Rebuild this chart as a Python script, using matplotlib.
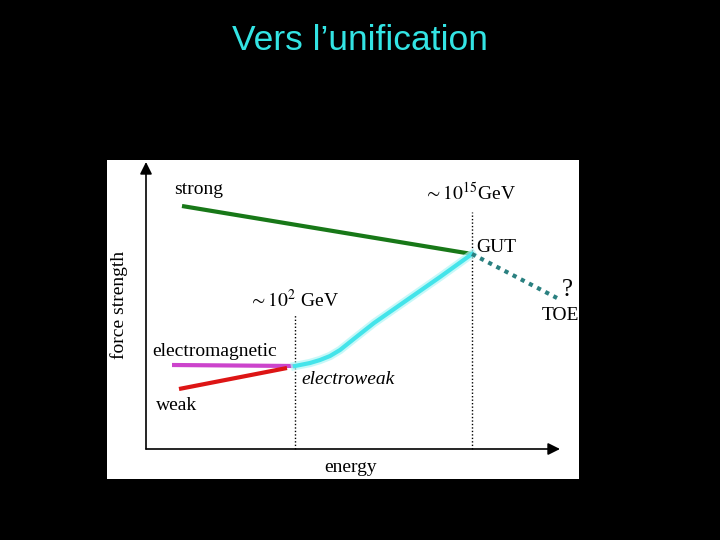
import numpy as np
import matplotlib.pyplot as plt

# values, origin at the axis corner (units ~ pixels)
strong_x = [36, 326]
strong_y = [243, 195]
em_x = [26, 149]
em_y = [84, 83]
weak_x = [33, 141]
weak_y = [60, 81]
ew_x = [149, 154, 164, 174, 184, 194, 209, 228, 261, 294, 326]
ew_y = [83, 84, 86, 89, 93, 99, 111, 126, 149, 172, 195]
toe_x = [326, 411]
toe_y = [195, 151]
vlines_x = [149, 326]
vlines_top = [134, 237]

serif = ['Liberation Serif', 'DejaVu Serif']

fig = plt.figure(figsize=(7.2, 5.4), dpi=100, facecolor='black')
fig.text(0.5, 1 - 40 / 540, 'Vers l\u2019unification', color='#33e4e4',
         fontsize=25.5, family='Liberation Sans', ha='center', va='center')

ax = fig.add_axes([107 / 720, 1 - 479 / 540, 472 / 720, 319 / 540])
ax.set_facecolor('white')
ax.set_xlim(-39, 433)
ax.set_ylim(-30, 289)
ax.set_xticks([])
ax.set_yticks([])
for s in ax.spines.values():
    s.set_visible(False)

# axes with arrows
arr = dict(arrowstyle='-|>', color='black', lw=1.2, mutation_scale=18,
           shrinkA=0, shrinkB=0)
ax.annotate('', xy=(414, 0), xytext=(0, 0), arrowprops=arr)
ax.annotate('', xy=(0, 287), xytext=(0, 0), arrowprops=arr)

for x, top in zip(vlines_x, vlines_top):
    ax.plot([x, x], [0, top], color='black', lw=1, ls=(0, (1, 1.5)))

ax.plot(strong_x, strong_y, color='#187818', lw=3, solid_capstyle='butt')
ax.plot(em_x, em_y, color='#cc44cc', lw=3, solid_capstyle='butt')
ax.plot(weak_x, weak_y, color='#dd1515', lw=3, solid_capstyle='butt')
ax.plot(ew_x, ew_y, color='#b0f6f6', lw=6, alpha=0.7)
ax.plot(ew_x, ew_y, color='#44e4ea', lw=3)
ax.plot(toe_x, toe_y, color='#2a8080', lw=3, ls=(0, (1, 1.2)))

fs = 14
ax.text(28, 259, 'strong', family=serif, fontsize=fs, va='center')
ax.text(278, 256, r'$\sim 10^{15}$GeV', family=serif, fontsize=fs, va='center',
        math_fontfamily='stix')
ax.text(330, 202, 'GUT', family=serif, fontsize=fs, va='center')
ax.text(421, 159, '?', family=serif, fontsize=18, ha='center', va='center')
ax.text(396, 133, 'TOE', family=serif, fontsize=fs, va='center')
ax.text(103, 149, r'$\sim 10^{2}$ GeV', family=serif, fontsize=fs, va='center',
        math_fontfamily='stix')
ax.text(6, 98, 'electromagnetic', family=serif, fontsize=fs, va='center')
ax.text(155, 69, 'electroweak', family=serif, fontsize=fs, style='italic', va='center')
ax.text(10, 44, 'weak', family=serif, fontsize=fs, va='center')
ax.text(205, -19, 'energy', family=serif, fontsize=fs, ha='center', va='center')
ax.text(-27, 144, 'force strength', family=serif, fontsize=fs, rotation=90,
        ha='center', va='center')

fig.savefig('out.png', dpi=100, facecolor='black')
